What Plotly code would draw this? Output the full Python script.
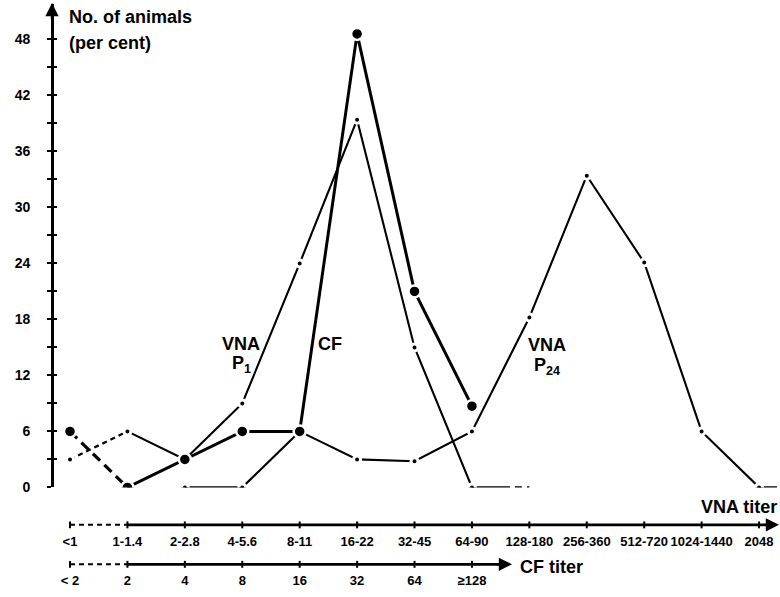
import plotly.graph_objects as go

# ---- data ----
vna_labels = ["<1", "1-1.4", "2-2.8", "4-5.6", "8-11", "16-22", "32-45", "64-90",
              "128-180", "256-360", "512-720", "1024-1440", "2048"]
cf_labels = ["< 2", "2", "4", "8", "16", "32", "64", "≥128"]
y_tick_values = [0, 6, 12, 18, 24, 30, 36, 42, 48]

# CF (per cent of animals), categories 0..7 of the CF scale
cf_pct = [6, 0, 3, 6, 6, 48.6, 21, 8.7]
# VNA P1, categories 0..7 of the VNA scale
p1_pct = [3, 6, 3, 9, 24, 39.4, 15, 0]
# VNA P24, categories 2..12 of the VNA scale
p24_start = 2
p24_pct = [0, 0, 6, 3, 2.8, 6, 18.2, 33.4, 24.1, 6, 0]

# ---- pixel geometry helpers ----
W, H = 780, 597
X0, DX = 70.0, 57.42     # pixel of category 0, pixels per category
Y0, DY = 494.0, 9.458    # pixel of 0 %, pixels per %
def px(p): return p / W
def py(p): return 1 - p / H
def cat_at(p): return (p - X0) / DX
def val_at(p): return (Y0 - p) / DY

FONT = "Liberation Sans, Arial, sans-serif"
BLACK = "black"

fig = go.Figure()

idx = list(range(len(vna_labels)))
p1_x = idx[:len(p1_pct)]
cf_x = list(range(len(cf_pct)))
p24_x = [p24_start + i for i in range(len(p24_pct))]

small = dict(color=BLACK, size=7, line=dict(color="white", width=3))
big = dict(color=BLACK, size=12, line=dict(color="white", width=2.5))

# VNA P24 (thin) with a short tail after the last point
fig.add_trace(go.Scatter(x=[p24_x[-1], cat_at(777)], y=[p24_pct[-1]] * 2, mode="lines",
                         line=dict(color=BLACK, width=2.1), hoverinfo="skip"))
fig.add_trace(go.Scatter(x=p24_x, y=p24_pct, mode="lines+markers",
                         line=dict(color=BLACK, width=2.1), marker=small))

# VNA P1: dashed first segment, solid middle, dashed tail at 0
fig.add_trace(go.Scatter(x=p1_x[:2], y=p1_pct[:2], mode="lines",
                         line=dict(color=BLACK, width=2.3, dash="5px,4px")))
fig.add_trace(go.Scatter(x=[p1_x[-1], p1_x[-1] + 1], y=[p1_pct[-1]] * 2, mode="lines",
                         line=dict(color=BLACK, width=2.3, dash="38px,5px,7px,5px,7px")))
fig.add_trace(go.Scatter(x=p1_x[1:], y=p1_pct[1:], mode="lines",
                         line=dict(color=BLACK, width=2.1)))
fig.add_trace(go.Scatter(x=p1_x, y=p1_pct, mode="markers", marker=small))

# CF: dashed first segment, thick solid rest, big dots
fig.add_trace(go.Scatter(x=cf_x[:2], y=cf_pct[:2], mode="lines",
                         line=dict(color=BLACK, width=3.2, dash="10px,6px")))
fig.add_trace(go.Scatter(x=cf_x[1:], y=cf_pct[1:], mode="lines",
                         line=dict(color=BLACK, width=3)))
fig.add_trace(go.Scatter(x=cf_x, y=cf_pct, mode="markers", marker=big))

# helper trace for overlay axes
fig.add_trace(go.Scatter(x=[None], y=[None], xaxis="x2", yaxis="y2", showlegend=False))

shapes = []
annotations = []

# bottom axes (VNA and CF)
def bottom_axis(ypix, n_ticks, end_pix):
    yp = py(ypix)
    shapes.append(dict(type="line", xref="x", yref="paper", x0=0, x1=1, y0=yp, y1=yp,
                       line=dict(color=BLACK, width=2, dash="5px,4px")))
    shapes.append(dict(type="line", xref="x", yref="paper", x0=1, x1=cat_at(end_pix - 4),
                       y0=yp, y1=yp, line=dict(color=BLACK, width=2.8)))
    for i in range(n_ticks):
        shapes.append(dict(type="line", xref="x", yref="paper", x0=i, x1=i,
                           y0=py(ypix + 3.5), y1=py(ypix - 3.5),
                           line=dict(color=BLACK, width=2)))
    annotations.append(dict(x=cat_at(end_pix), y=yp, xref="x", yref="paper", text="",
                            showarrow=True, ax=-16, ay=0, arrowhead=2, arrowsize=1.1,
                            arrowwidth=2.4, arrowcolor=BLACK))

bottom_axis(532, len(vna_labels), 779)
bottom_axis(572, len(cf_labels), 512)

# y axis arrowhead
annotations.append(dict(x=px(52), y=py(3), xref="paper", yref="paper", text="",
                        showarrow=True, ax=0, ay=18, arrowhead=2, arrowsize=1.1,
                        arrowwidth=2.4, arrowcolor=BLACK))

def label(text, xp, yp, size=18, xanchor="center"):
    annotations.append(dict(x=px(xp), y=py(yp), xref="paper", yref="paper", text=text,
                            showarrow=False, xanchor=xanchor, yanchor="middle",
                            font=dict(family=FONT, size=size, color=BLACK, weight="bold")))

label("No. of animals", 67, 17, 18, "left")
label("(per cent)", 67, 44, 18, "left")
label("VNA", 241, 349)
label("P<sub>1</sub>", 241, 369)
label("CF", 330, 349)
label("VNA", 547, 350)
label("P<sub>24</sub>", 547, 371)
label("VNA titer", 779, 514, 18, "right")
label("CF titer", 518, 575, 18, "left")

x_range = [cat_at(0), cat_at(W)]
y_dom = [py(494), py(4)]
y_rng = [0, val_at(4)]
all_y_ticks = list(range(0, y_tick_values[-1] + 1, 3))
minor_y_ticks = [v for v in all_y_ticks if v not in y_tick_values]
tickfont = dict(family=FONT, size=14, color=BLACK, weight="bold")

fig.update_layout(
    width=W, height=H, autosize=False,
    margin=dict(l=0, r=0, t=0, b=0),
    paper_bgcolor="white", plot_bgcolor="white",
    showlegend=False,
    xaxis=dict(domain=[0, 1], range=x_range, anchor="free", position=py(532),
               tickvals=idx, ticktext=vna_labels, ticks="", showline=False,
               showgrid=False, zeroline=False, tickfont=dict(tickfont, size=13),
               ticklabelstandoff=7),
    xaxis2=dict(domain=[0, 1], range=x_range, anchor="free", position=py(572),
                overlaying="x", tickvals=cf_x, ticktext=cf_labels, ticks="",
                showline=False, showgrid=False, zeroline=False,
                tickfont=dict(tickfont, size=13), ticklabelstandoff=7),
    yaxis=dict(domain=y_dom, range=y_rng, anchor="free", position=px(52),
               showline=True, linewidth=2.6, linecolor=BLACK,
               tickvals=y_tick_values, ticktext=[str(v) for v in y_tick_values],
               ticks="outside", ticklen=4,
               tickwidth=2, tickcolor=BLACK, showgrid=False, zeroline=False,
               minor=dict(tickvals=minor_y_ticks, ticks="outside", ticklen=4,
                          tickwidth=2, tickcolor=BLACK, showgrid=False),
               tickfont=tickfont, ticklabelstandoff=14),
    yaxis2=dict(domain=y_dom, range=y_rng, anchor="free", position=px(52),
                overlaying="y", tickvals=all_y_ticks, ticks="inside", ticklen=4,
                tickwidth=2, tickcolor=BLACK, showticklabels=False, showline=False,
                showgrid=False, zeroline=False),
    shapes=shapes, annotations=annotations,
)

fig.write_html("out.html")
